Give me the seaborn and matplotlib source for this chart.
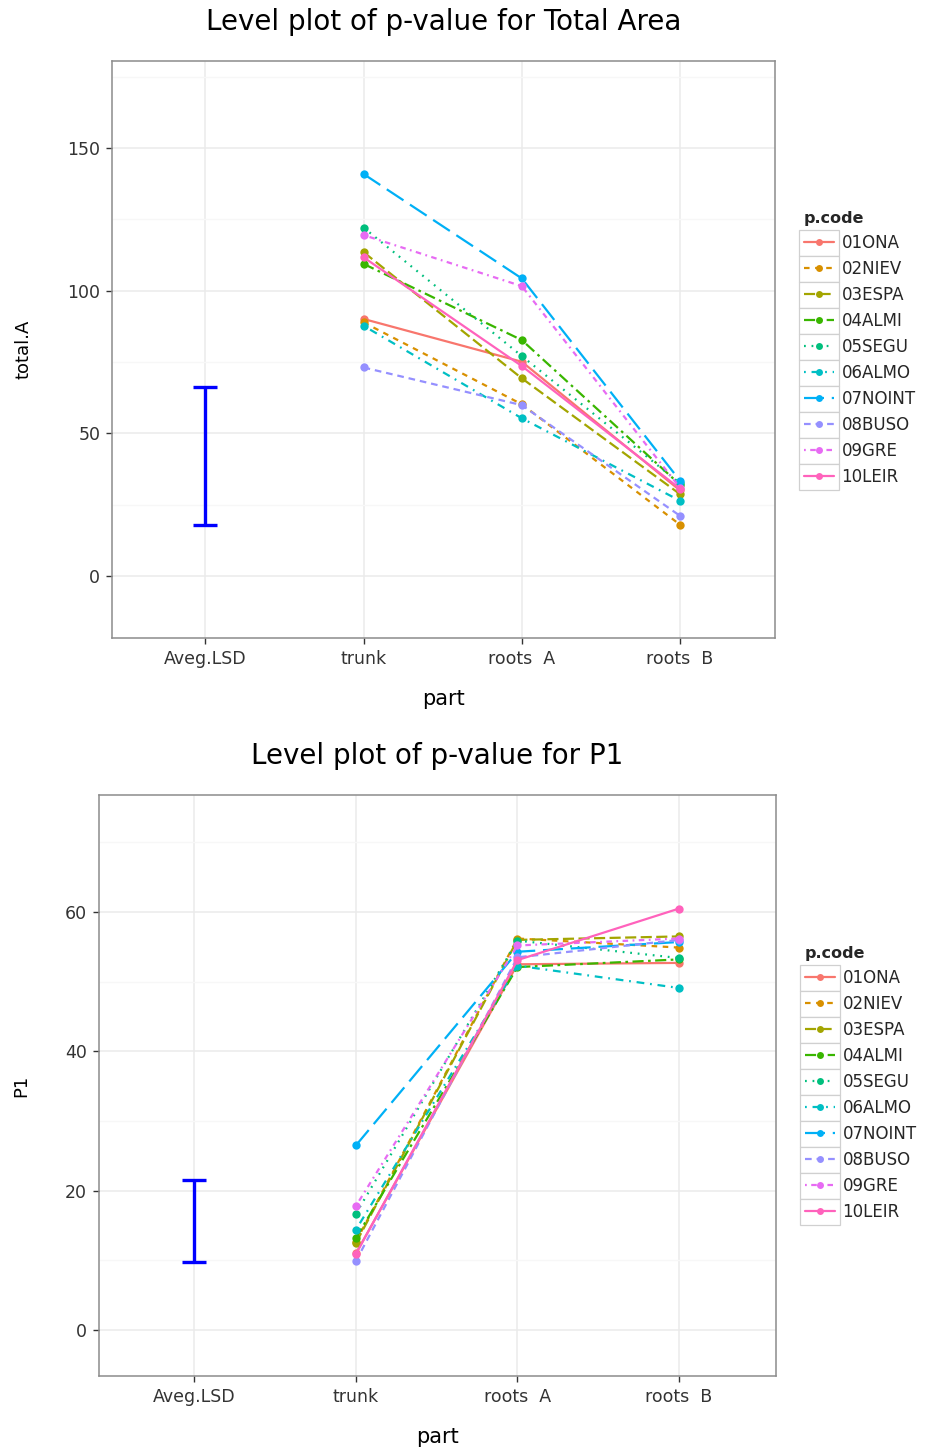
import numpy as np
import pandas as pd
import matplotlib
matplotlib.use("Agg")
import matplotlib.pyplot as plt
from matplotlib.lines import Line2D
from matplotlib.patches import Rectangle
import seaborn as sns

sns.set_theme(style="white")
plt.rcParams["font.family"] = ["DejaVu Sans"]

# ---------------- data ----------------
codes = ["01ONA", "02NIEV", "03ESPA", "04ALMI", "05SEGU",
         "06ALMO", "07NOINT", "08BUSO", "09GRE", "10LEIR"]
parts = ["trunk", "roots  A", "roots  B"]
tick_labels = ["Aveg.LSD", "trunk", "roots  A", "roots  B"]

# total area per part (trunk, roots A, roots B)
total_trunk = [90.1, 88.9, 113.5, 109.4, 122.1, 87.7, 140.9, 73.1, 119.5, 111.7]
total_rootsA = [75.1, 60.2, 69.3, 82.7, 77.1, 55.3, 104.3, 59.9, 101.6, 73.6]
total_rootsB = [30.0, 18.0, 28.7, 32.0, 32.5, 26.4, 33.4, 21.1, 30.9, 30.6]
total_lsd = [17.9, 66.1]

# P1 per part
p1_trunk = [11.0, 12.7, 12.5, 13.2, 16.7, 14.4, 26.5, 9.9, 17.8, 10.9]
p1_rootsA = [52.5, 56.2, 56.0, 52.1, 55.9, 52.3, 54.3, 53.5, 55.2, 53.1]
p1_rootsB = [52.7, 54.9, 56.5, 53.2, 53.4, 49.1, 55.7, 56.0, 56.2, 60.5]
p1_lsd = [9.8, 21.5]

# ---------------- styles ----------------
palette = dict(zip(codes, ["#F8766D", "#D89000", "#A3A500", "#39B600", "#00BF7D",
                           "#00BFC4", "#00B0F6", "#9590FF", "#E76BF3", "#FF62BC"]))
dash_map = {
    "01ONA": "",
    "02NIEV": (2.5, 2.5),
    "03ESPA": (5, 2),
    "04ALMI": (5, 2, 1.2, 2),
    "05SEGU": (0.8, 2.6),
    "06ALMO": (0.8, 2.6, 3.5, 2.6),
    "07NOINT": (9, 3.5),
    "08BUSO": (3, 2.2),
    "09GRE": (0.8, 2, 2.5, 2),
    "10LEIR": "",
}
marker_map = {c: "o" for c in codes}


def long_table(trunk, ra, rb):
    rows = []
    for i, c in enumerate(codes):
        for j, v in enumerate([trunk[i], ra[i], rb[i]]):
            rows.append({"p.code": c, "x": j + 1, "value": v})
    return pd.DataFrame(rows)


def panel(fig, rect, df, lsd, ylim, major, minor, ylabel, title, title_y, leg_anchor):
    ax = fig.add_axes(rect)
    ax.set_facecolor("white")
    ax.set_axisbelow(True)
    ax.set_xlim(-0.59, 3.6)
    ax.set_ylim(*ylim)
    ax.set_yticks(major)
    ax.set_yticks(minor, minor=True)
    ax.set_xticks(range(len(tick_labels)))
    ax.set_xticklabels(tick_labels)
    ax.grid(True, which="major", color="#EBEBEB", lw=1.1)
    ax.grid(True, which="minor", axis="y", color="#F7F7F7", lw=1.0)
    for s in ax.spines.values():
        s.set_color("#8C8C8C")
        s.set_linewidth(1.1)
    ax.tick_params(axis="both", which="major", direction="out", length=4.5, width=1.0,
                   color="#333333", labelcolor="#333333", labelsize=12.5, pad=4,
                   bottom=True, left=True)
    ax.tick_params(axis="both", which="minor", length=0)

    # average LSD bar
    mid = (lsd[0] + lsd[1]) / 2
    ax.errorbar([0], [mid], yerr=[[mid - lsd[0]], [lsd[1] - mid]], color="#0000FF",
                lw=2.4, capsize=8.6, capthick=2.4, zorder=3)

    sns.lineplot(data=df, x="x", y="value", hue="p.code", style="p.code",
                 hue_order=codes, style_order=codes, palette=palette,
                 dashes=dash_map, markers=marker_map, estimator=None, sort=False,
                 linewidth=1.6, markersize=6, markeredgewidth=0, legend=False,
                 ax=ax, zorder=4)

    ax.set_xlabel("part", fontsize=15, color="black", labelpad=15)
    ax.set_ylabel(ylabel, fontsize=13, color="black", labelpad=25)

    cx = rect[0] + rect[2] / 2
    fig.text(cx, title_y, title, ha="center", va="center", fontsize=20, color="black")

    handles = []
    for c in codes:
        d = dash_map[c]
        h = Line2D([], [], color=palette[c], lw=1.6, marker="o", markersize=5,
                   markeredgewidth=0)
        if d:
            h.set_dashes(d)
        handles.append(h)
    leg = ax.legend(handles, codes, title="p.code", loc="upper left",
                    bbox_to_anchor=leg_anchor, bbox_transform=fig.transFigure,
                    frameon=False, fontsize=12, title_fontsize=11.5,
                    handlelength=1.8, handletextpad=0.45, labelspacing=0.48,
                    borderpad=0, borderaxespad=0)
    leg._legend_box.align = "left"
    leg.get_title().set_fontweight("bold")
    return ax, leg


W, H = 926, 1448
fig = plt.figure(figsize=(W / 100, H / 100), dpi=100)
fig.patch.set_facecolor("white")

df_total = long_table(total_trunk, total_rootsA, total_rootsB)
df_p1 = long_table(p1_trunk, p1_rootsA, p1_rootsB)

ax1, leg1 = panel(fig, [112 / W, 1 - 638 / H, 663 / W, 577 / H], df_total, total_lsd,
                  (-21.7, 180.5), [0, 50, 100, 150], [25, 75, 125, 175], "total.A",
                  "Level plot of p-value for Total Area", 1 - 22 / H,
                  (804 / W, 1 - 211 / H))

ax2, leg2 = panel(fig, [99 / W, 1 - 1376 / H, 677 / W, 581 / H], df_p1, p1_lsd,
                  (-6.6, 76.8), [0, 20, 40, 60], [10, 30, 50, 70], "P1",
                  "Level plot of p-value for P1", 1 - 756 / H,
                  (805 / W, 1 - 946 / H))

# legend key boxes (white fill, light grey border) drawn beneath the legend keys
fig.canvas.draw()
renderer = fig.canvas.get_renderer()
for leg in (leg1, leg2):
    for h, t in zip(leg.legend_handles, leg.get_texts()):
        tb = t.get_window_extent(renderer)
        hb = h.get_window_extent(renderer)
        cy = (tb.y0 + tb.y1) / 2
        box = Rectangle((hb.x0 - 2, cy - 13), hb.width + 4, 26, transform=None,
                        facecolor="white", edgecolor="#D0D0D0", lw=0.9, zorder=-1)
        fig.patches.append(box)

fig.savefig("out.png", dpi=100, facecolor="white")
